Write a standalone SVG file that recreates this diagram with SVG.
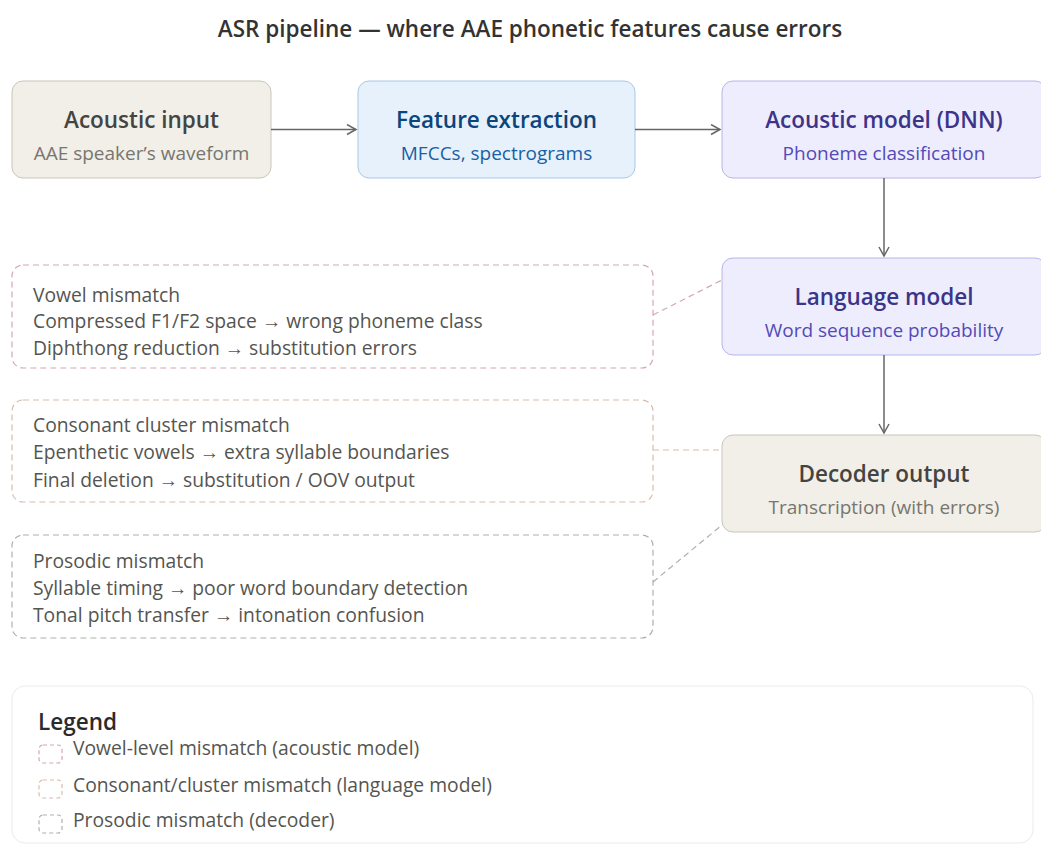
<svg xmlns="http://www.w3.org/2000/svg" width="1041" height="844" viewBox="0 0 1041 844">
<defs>
<marker id="arr" viewBox="0 0 12 12" refX="10" refY="6" markerWidth="12" markerHeight="12" markerUnits="userSpaceOnUse" orient="auto">
<path d="M1,1 L10,6 L1,11" fill="none" stroke="#666" stroke-width="1.5"/>
</marker>
<style>
text{font-family:"Open Sans","Noto Sans",sans-serif}
.t{font-size:22.5px;font-weight:600;text-anchor:middle}
.s{font-size:19px;text-anchor:middle}
.b{font-size:19.3px;fill:#555550}
.gray rect{fill:#f1efe8;stroke:#c9c5bb;stroke-width:1}
.gray .t{fill:#444441}.gray .s{fill:#77766f}
.blue rect{fill:#e6f1fb;stroke:#a9c7e4;stroke-width:1}
.blue .t{fill:#0c447c}.blue .s{fill:#185fa5}
.purp rect{fill:#eeedfe;stroke:#b8b4ea;stroke-width:1}
.purp .t{fill:#3c3489}.purp .s{fill:#534ab7}
.dash{fill:none;stroke-width:1.2;stroke-dasharray:6 4}
.arrow{stroke:#666;stroke-width:1.5;fill:none;marker-end:url(#arr)}
.leg{font-size:19.3px;fill:#555550}
</style>
</defs>
<rect width="1041" height="844" fill="#ffffff"/>
<text x="530" y="37" style="font-size:22.5px;font-weight:600;fill:#333" text-anchor="middle">ASR pipeline — where AAE phonetic features cause errors</text>

<g id="acoustic-input" class="gray">
<rect x="12" y="81" width="259" height="97" rx="11"/>
<text class="t" x="141.5" y="128">Acoustic input</text>
<text class="s" x="141.5" y="160">AAE speaker’s waveform</text>
</g>
<g id="feature-extraction" class="blue">
<rect x="358" y="81" width="277" height="97" rx="11"/>
<text class="t" x="496.5" y="128">Feature extraction</text>
<text class="s" x="496.5" y="160">MFCCs, spectrograms</text>
</g>
<g id="acoustic-model" class="purp">
<rect x="722" y="81" width="324" height="97" rx="11"/>
<text class="t" x="884" y="128">Acoustic model (DNN)</text>
<text class="s" x="884" y="160">Phoneme classification</text>
</g>
<g id="language-model" class="purp">
<rect x="722" y="258" width="324" height="97" rx="11"/>
<text class="t" x="884" y="305">Language model</text>
<text class="s" x="884" y="337">Word sequence probability</text>
</g>
<g id="decoder-output" class="gray">
<rect x="722" y="435" width="324" height="97" rx="11"/>
<text class="t" x="884" y="482">Decoder output</text>
<text class="s" x="884" y="514">Transcription (with errors)</text>
</g>

<g id="vowel-mismatch">
<rect class="dash" x="12" y="265" width="641" height="103" rx="11" stroke="#d6a7b1"/>
<text class="b" x="33" y="302">Vowel mismatch</text>
<text class="b" x="33" y="328">Compressed F1/F2 space → wrong phoneme class</text>
<text class="b" x="33" y="355">Diphthong reduction → substitution errors</text>
</g>
<g id="consonant-mismatch">
<rect class="dash" x="12" y="400" width="641" height="102" rx="11" stroke="#d9bcad"/>
<text class="b" x="33" y="432">Consonant cluster mismatch</text>
<text class="b" x="33" y="459">Epenthetic vowels → extra syllable boundaries</text>
<text class="b" x="33" y="487">Final deletion → substitution / OOV output</text>
</g>
<g id="prosodic-mismatch">
<rect class="dash" x="12" y="535" width="641" height="103" rx="11" stroke="#aab3ae"/>
<text class="b" x="33" y="568">Prosodic mismatch</text>
<text class="b" x="33" y="595">Syllable timing → poor word boundary detection</text>
<text class="b" x="33" y="622">Tonal pitch transfer → intonation confusion</text>
</g>

<g id="connectors">
<line class="arrow" x1="271" y1="129.5" x2="356" y2="129.5"/>
<line class="arrow" x1="635" y1="129.5" x2="720" y2="129.5"/>
<line class="arrow" x1="884" y1="178" x2="884" y2="256"/>
<line class="arrow" x1="884" y1="355" x2="884" y2="433"/>
<line class="dash" x1="653" y1="315" x2="722" y2="280" stroke="#d6a7b1"/>
<line class="dash" x1="653" y1="450" x2="722" y2="450" stroke="#d9bcad"/>
<line class="dash" x1="653" y1="582" x2="722" y2="525" stroke="#aab3ae"/>
</g>

<g id="legend">
<rect x="12" y="686" width="1021" height="157" rx="13" fill="#fff" stroke="#ebebeb" stroke-width="1"/>
<text x="38" y="730" style="font-size:22.5px;font-weight:600;fill:#2b2b2b">Legend</text>
<rect class="dash" x="39" y="745" width="23" height="18" rx="4" stroke="#d6a7b1" style="stroke-dasharray:4 3"/>
<text class="leg" x="73" y="755">Vowel-level mismatch (acoustic model)</text>
<rect class="dash" x="39" y="780" width="23" height="18" rx="4" stroke="#d9bcad" style="stroke-dasharray:4 3"/>
<text class="leg" x="73" y="792">Consonant/cluster mismatch (language model)</text>
<rect class="dash" x="39" y="815" width="23" height="18" rx="4" stroke="#aab3ae" style="stroke-dasharray:4 3"/>
<text class="leg" x="73" y="827">Prosodic mismatch (decoder)</text>
</g>
</svg>
